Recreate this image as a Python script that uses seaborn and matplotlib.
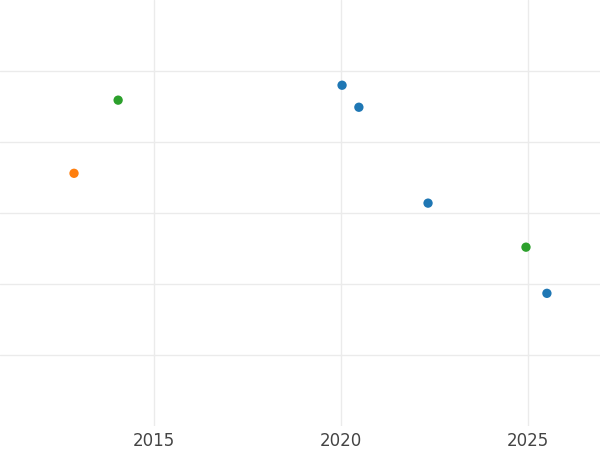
import matplotlib
matplotlib.use("Agg")
import matplotlib.pyplot as plt
import seaborn as sns
import pandas as pd

years = [2014.04, 2012.86, 2020.03, 2020.48, 2022.33, 2024.95, 2025.51]
values = [4.59, 3.56, 4.80, 4.49, 3.14, 2.52, 1.87]
groups = ["c", "b", "a", "a", "a", "c", "a"]
palette = {"a": "#1f77b4", "b": "#ff7f0e", "c": "#2ca02c"}

df = pd.DataFrame({"year": years, "value": values, "group": groups})

sns.set_theme(style="whitegrid")
fig = plt.figure(figsize=(6, 4.5), dpi=100)
ax = fig.add_axes([0, 0.053, 1, 0.947])
sns.scatterplot(data=df, x="year", y="value", hue="group", palette=palette,
                s=45, edgecolor="none", legend=False, ax=ax)
ax.set_xlim(2010.88, 2026.93)
ax.set_ylim(0, 6)
ax.set_xticks([2015, 2020, 2025])
ax.set_yticks([1, 2, 3, 4, 5])
ax.set_yticklabels([])
ax.tick_params(axis="x", labelsize=12, colors="#444444", length=0, pad=4)
ax.tick_params(axis="y", length=0)
ax.set_xlabel("")
ax.set_ylabel("")
ax.grid(True, color="#ebebeb", linewidth=1)
for s in ax.spines.values():
    s.set_visible(False)
fig.savefig("out.png", dpi=100)
